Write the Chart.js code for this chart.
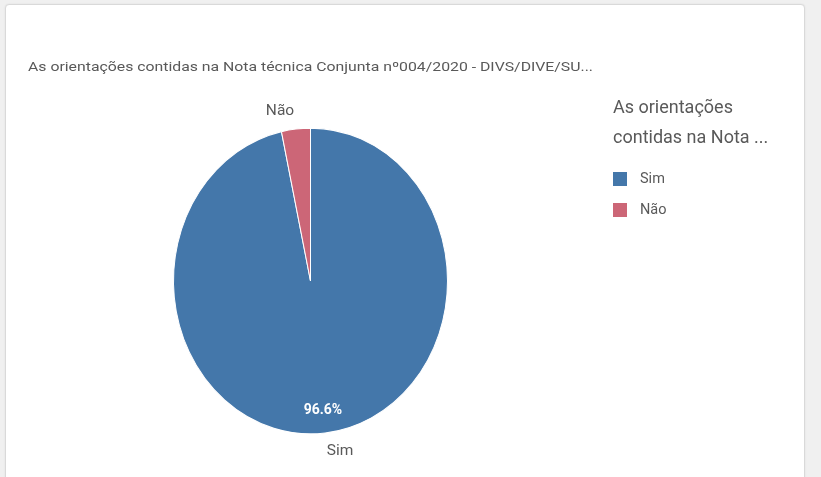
<!DOCTYPE html>
<html>
<head>
<meta charset="utf-8">
<script src="https://cdn.jsdelivr.net/npm/chart.js@4.4.1/dist/chart.umd.min.js"></script>
<style>
  html, body { margin: 0; padding: 0; background: #f0f0f0; width: 821px; height: 477px; overflow: hidden; }
  #card { position: absolute; left: 5px; top: 4px; width: 798px; height: 500px; background: #fff; border: 1px solid #d9d9d9; border-radius: 4px; box-shadow: 0 0 2px rgba(0,0,0,0.08); }
  #wrap { position: absolute; left: 0; top: 0; width: 821px; height: 477px; }
</style>
</head>
<body>
<div id="card"></div>
<div id="wrap"><canvas id="c" width="821" height="477"></canvas></div>
<script>
const chartTitle = "As orientações contidas na Nota técnica Conjunta nº004/2020 - DIVS/DIVE/SU...";
const legendTitle = ["As orientações", "contidas na Nota ..."];
const categories = ["Sim", "Não"];
const percentValues = [96.6, 3.4];
const sliceColors = ["#4477aa", "#cc6677"];

const FONT = "Roboto, 'Open Sans', sans-serif";
const textGray = "#595959";
const yStretch = 154 / 138;

const stretchPlugin = {
  id: 'stretch',
  beforeDatasetsDraw(chart) {
    const a = chart.chartArea;
    const cx = (a.left + a.right) / 2, cy = (a.top + a.bottom) / 2;
    const ctx = chart.ctx;
    ctx.save();
    ctx.translate(cx, cy);
    ctx.scale(1, yStretch);
    ctx.translate(-cx, -cy);
  },
  afterDatasetsDraw(chart) {
    chart.ctx.restore();
  }
};

const labelsPlugin = {
  id: 'labels',
  afterDraw(chart) {
    const ctx = chart.ctx;
    const a = chart.chartArea;
    const cy0 = (a.top + a.bottom) / 2;
    // title (stretched horizontally to match the reference width)
    ctx.save();
    ctx.fillStyle = textGray;
    ctx.font = "13px " + FONT;
    ctx.textBaseline = 'middle';
    ctx.textAlign = 'left';
    const w = ctx.measureText(chartTitle).width;
    ctx.save();
    ctx.translate(28, 68);
    ctx.scale(565 / w, 1);
    ctx.fillText(chartTitle, 0, 0);
    ctx.restore();

    // legend
    ctx.font = "18px " + FONT;
    legendTitle.forEach((t, i) => ctx.fillText(t, 613, 108 + i * 30));
    ctx.font = "14.5px " + FONT;
    categories.forEach((c, i) => {
      const y = 179 + i * 31;
      ctx.fillStyle = sliceColors[i];
      ctx.fillRect(613, y - 7, 14, 14);
      ctx.fillStyle = textGray;
      ctx.fillText(c, 640, y);
    });

    // slice labels
    const meta = chart.getDatasetMeta(0);
    meta.data.forEach((arc, i) => {
      const p = arc.getProps(['x', 'y', 'startAngle', 'endAngle', 'outerRadius'], true);
      const mid = (p.startAngle + p.endAngle) / 2;
      const r = p.outerRadius;
      // outer label
      const ro = r + 16;
      const ox = p.x + Math.cos(mid) * ro;
      const oy = cy0 + Math.sin(mid) * ro * yStretch;
      ctx.fillStyle = textGray;
      ctx.font = "15.5px " + FONT;
      ctx.textAlign = Math.cos(mid) >= 0 ? 'left' : 'right';
      ctx.textBaseline = 'middle';
      ctx.fillText(categories[i], ox, oy);
      if (percentValues[i] > 10) {
        const ri = r * 0.85;
        const ix = p.x + Math.cos(mid) * ri;
        const iy = cy0 + Math.sin(mid) * ri * yStretch;
        ctx.fillStyle = "#ffffff";
        ctx.textAlign = 'center';
        ctx.font = "bold 14px " + FONT;
        ctx.fillText(percentValues[i].toFixed(1) + "%", ix, iy);
      }
    });
    ctx.restore();
  }
};

new Chart(document.getElementById('c'), {
  type: 'pie',
  data: {
    labels: categories,
    datasets: [{
      data: percentValues,
      backgroundColor: sliceColors,
      borderColor: '#ffffff',
      borderWidth: 1
    }]
  },
  options: {
    responsive: false,
    animation: false,
    rotation: 0,
    layout: { padding: { left: 173, right: 373, top: 143, bottom: 58 } },
    plugins: {
      legend: { display: false },
      title: { display: false },
      tooltip: { enabled: false }
    }
  },
  plugins: [stretchPlugin, labelsPlugin]
});
</script>
</body>
</html>
